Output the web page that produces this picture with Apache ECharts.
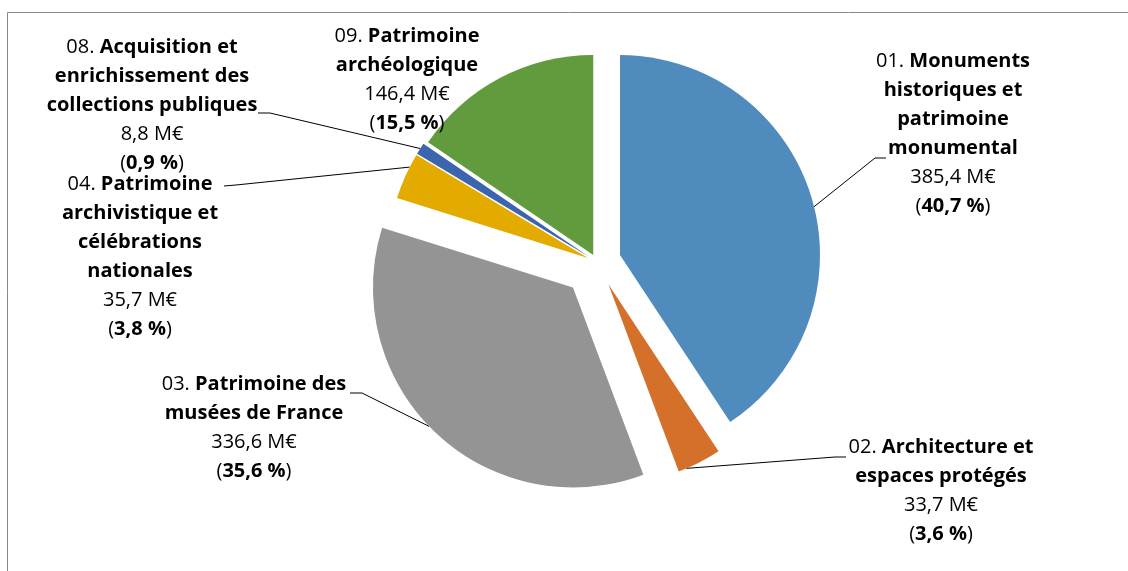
<!DOCTYPE html>
<html>
<head>
<meta charset="utf-8">
<script src="https://cdn.jsdelivr.net/npm/echarts@6/dist/echarts.min.js"></script>
<style>
  html, body { margin: 0; padding: 0; background: #ffffff; }
  #chart { width: 1128px; height: 571px; }
</style>
</head>
<body>
<div id="chart"></div>
<script>
// data, clockwise from 12 o'clock
var codes = ['01', '02', '03', '04', '08', '09']
var names = [
  'Monuments\nhistoriques et\npatrimoine\nmonumental',
  'Architecture et\nespaces protégés',
  'Patrimoine des\nmusées de France',
  'Patrimoine\narchivistique et\ncélébrations\nnationales',
  'Acquisition et\nenrichissement des\ncollections publiques',
  'Patrimoine\narchéologique'
]
var values = [385.4, 33.7, 336.6, 35.7, 8.8, 146.4]

var colors = ['#508BBE', '#D5702B', '#949494', '#E3AB00', '#3D64AE', '#629B3E']
// how far each slice is pulled out of the pie (px)
var explode = [24, 25, 35, 10, 10, 8]
// label block centres
var labelPos = [[953, 134], [941, 491], [254, 428], [140, 257], [152, 105], [407, 80]]
// leader lines: angle on the slice rim (deg, clockwise from top), elbow, end near the text
var leaders = [
  { angle: 76, elbow: [875, 158], end: [886, 158] },
  { angle: 157, elbow: [835, 457], end: [846, 457] },
  { angle: 226, elbow: [362, 393], end: [350, 393] },
  { angle: 297, elbow: [236, 185], end: [224, 186] },
  { angle: 302.7, elbow: [270, 113], end: [258, 113] },
  null
]
var pieCenter = [597, 262]
var pieRadius = 200

var total = values.reduce(function (a, b) { return a + b }, 0)

function fmt (v, digits) {
  return v.toFixed(digits).replace('.', ',')
}

function labelText (i) {
  var lines = names[i].split('\n')
  var out = '{n|' + codes[i] + '. }{b|' + lines[0] + '}'
  for (var k = 1; k < lines.length; k++) {
    out += '\n{b|' + lines[k] + '}'
  }
  out += '\n{n|' + fmt(values[i], 1) + ' M€}'
  out += '\n{n|(}{b|' + fmt(values[i] / total * 100, 1) + ' %}{n|)}'
  return out
}

var richStyle = {
  n: { fontFamily: 'Open Sans', fontSize: 20, fontWeight: 'normal', color: '#000000', lineHeight: 29 },
  b: { fontFamily: 'Open Sans', fontSize: 20, fontWeight: 'bold', color: '#000000', lineHeight: 29 }
}

// one pie per slice so that every slice can be pulled out by its own amount
var series = []
var cum = 0
for (let i = 0; i < values.length; i++) {
  var mid = (cum + values[i] / 2) / total * Math.PI * 2
  cum += values[i]
  let cx = pieCenter[0] + explode[i] * Math.sin(mid)
  let cy = pieCenter[1] - explode[i] * Math.cos(mid)
  var data = []
  for (let j = 0; j < values.length; j++) {
    data.push({
      value: values[j],
      name: codes[j],
      itemStyle: { color: j === i ? colors[j] : 'rgba(0,0,0,0)', borderWidth: 0 },
      label: { show: j === i },
      labelLine: { show: j === i && leaders[i] !== null }
    })
  }
  series.push({
    type: 'pie',
    center: [cx, cy],
    radius: pieRadius,
    startAngle: 90,
    clockwise: true,
    silent: true,
    animation: false,
    avoidLabelOverlap: false,
    emphasis: { disabled: true },
    label: {
      formatter: function () { return labelText(i) },
      rich: richStyle,
      align: 'center'
    },
    labelLine: {
      lineStyle: { color: '#000000', width: 1 }
    },
    labelLayout: function () {
      var res = { x: labelPos[i][0], y: labelPos[i][1], align: 'center', verticalAlign: 'middle' }
      var ld = leaders[i]
      if (ld) {
        var a = ld.angle * Math.PI / 180
        res.labelLinePoints = [
          [cx + pieRadius * Math.sin(a), cy - pieRadius * Math.cos(a)],
          ld.elbow,
          ld.end
        ]
      }
      return res
    },
    data: data
  })
}

var myChart = echarts.init(document.getElementById('chart'))
myChart.setOption({
  backgroundColor: '#ffffff',
  graphic: [{
    type: 'rect',
    shape: { x: 7.5, y: 12.5, width: 1200, height: 600 },
    style: { fill: 'none', stroke: '#898989', lineWidth: 1 },
    silent: true
  }],
  series: series
})
</script>
</body>
</html>
